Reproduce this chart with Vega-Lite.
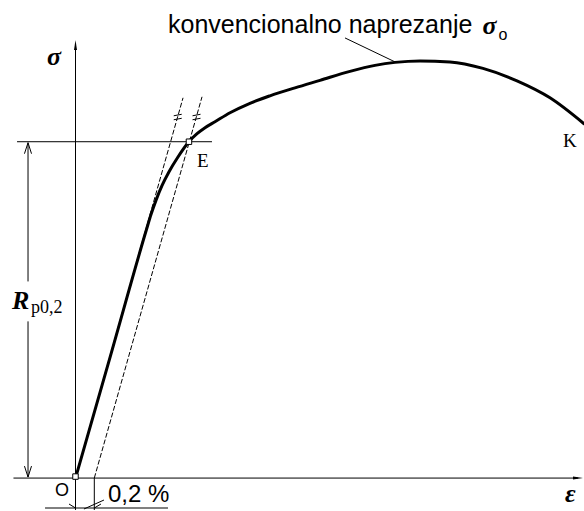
{
  "$schema": "https://vega.github.io/schema/vega-lite/v6.json",
  "width": 584,
  "height": 511,
  "padding": 0,
  "autosize": {"type": "fit", "contains": "padding"},
  "background": "white",
  "config": {"view": {"stroke": null}},
  "datasets": {
    "curve": [
      {"eps": 0, "sig": 0},
      {"eps": 0.378, "sig": 124.5},
      {"eps": 0.755, "sig": 249},
      {"eps": 0.803, "sig": 264},
      {"eps": 0.859, "sig": 279},
      {"eps": 0.92, "sig": 293},
      {"eps": 0.995, "sig": 307},
      {"eps": 1.085, "sig": 321},
      {"eps": 1.202, "sig": 336.5},
      {"eps": 1.293, "sig": 345},
      {"eps": 1.378, "sig": 351},
      {"eps": 1.484, "sig": 357},
      {"eps": 1.644, "sig": 366},
      {"eps": 1.856, "sig": 375.5},
      {"eps": 2.069, "sig": 383},
      {"eps": 2.335, "sig": 391},
      {"eps": 2.601, "sig": 398.5},
      {"eps": 2.92, "sig": 407.5},
      {"eps": 3.186, "sig": 413.5},
      {"eps": 3.399, "sig": 416.5},
      {"eps": 3.665, "sig": 418},
      {"eps": 3.984, "sig": 417},
      {"eps": 4.335, "sig": 410.5},
      {"eps": 4.697, "sig": 398},
      {"eps": 5.048, "sig": 381},
      {"eps": 5.41, "sig": 355}
    ],
    "parallels": [
      {"id": "elastic", "eps": 0, "sig": 0},
      {"id": "elastic", "eps": 1.144, "sig": 381},
      {"id": "offset", "eps": 0.2, "sig": 0},
      {"id": "offset", "eps": 1.346, "sig": 382}
    ],
    "segments": [
      {"eps": -0.66, "sig": 0, "eps2": 5.346, "sig2": 0},
      {"eps": 0, "sig": -32, "eps2": 0, "sig2": 434},
      {"eps": -0.622, "sig": 337, "eps2": 1.452, "sig2": 337},
      {"eps": -0.505, "sig": 336, "eps2": -0.505, "sig2": 197},
      {"eps": -0.505, "sig": 157, "eps2": -0.505, "sig2": 1},
      {"eps": -0.505, "sig": 336, "eps2": -0.543, "sig2": 325},
      {"eps": -0.505, "sig": 336, "eps2": -0.468, "sig2": 325},
      {"eps": -0.505, "sig": 1, "eps2": -0.543, "sig2": 12},
      {"eps": -0.505, "sig": 1, "eps2": -0.468, "sig2": 12},
      {"eps": 0.2, "sig": 0, "eps2": 0.2, "sig2": -32},
      {"eps": -0.324, "sig": -30, "eps2": 0.984, "sig2": -30},
      {"eps": -0.069, "sig": -26, "eps2": 0, "sig2": -30},
      {"eps": 0.271, "sig": -26, "eps2": 0.2, "sig2": -30},
      {"eps": 0.09, "sig": -31, "eps2": 0.303, "sig2": -22},
      {"eps": 2.867, "sig": 441, "eps2": 3.399, "sig2": 417},
      {"eps": 1.045, "sig": 363, "eps2": 1.13, "sig2": 364.5},
      {"eps": 1.045, "sig": 359, "eps2": 1.13, "sig2": 360.5},
      {"eps": 1.245, "sig": 363, "eps2": 1.33, "sig2": 364.5},
      {"eps": 1.245, "sig": 359, "eps2": 1.33, "sig2": 360.5}
    ],
    "arrowheads": [
      {"eps": 0, "sig": 434, "dir": "up"},
      {"eps": 5.346, "sig": 0, "dir": "right"}
    ],
    "nodes": [
      {"eps": 0, "sig": 1.5, "name": "O"},
      {"eps": 1.207, "sig": 337, "name": "E"}
    ],
    "symbols": [
      {"eps": -0.303, "sig": 414, "text": "σ"},
      {"eps": 5.207, "sig": -24, "text": "ε"},
      {"eps": 4.33, "sig": 445, "text": "σ"},
      {"eps": -0.676, "sig": 169, "text": "R"}
    ],
    "points": [
      {"eps": 1.293, "sig": 312, "text": "E"},
      {"eps": 5.186, "sig": 332, "text": "K"}
    ],
    "subscripts": [
      {"eps": -0.473, "sig": 165, "text": "p0,2"}
    ],
    "notes": [
      {"eps": 0.984, "sig": 446, "text": "konvencionalno naprezanje"}
    ],
    "noteSub": [
      {"eps": 4.5, "sig": 439, "text": "o"}
    ],
    "offsetLabel": [
      {"eps": 0.346, "sig": -24, "text": "0,2 %"}
    ],
    "origin": [
      {"eps": -0.218, "sig": -18, "text": "O"}
    ]
  },
  "encoding": {
    "x": {"field": "eps", "type": "quantitative", "scale": {"domain": [-0.8032, 5.4096], "nice": false, "zero": false}, "axis": null},
    "y": {"field": "sig", "type": "quantitative", "scale": {"domain": [-32, 479], "nice": false, "zero": false}, "axis": null}
  },
  "layer": [
    {
      "data": {"name": "segments"},
      "mark": {"type": "rule", "color": "black", "strokeWidth": 1},
      "encoding": {
        "x2": {"field": "eps2"},
        "y2": {"field": "sig2"}
      }
    },
    {
      "data": {"name": "parallels"},
      "mark": {"type": "line", "color": "black", "strokeWidth": 1, "strokeDash": [5, 2]},
      "encoding": {"detail": {"field": "id"}}
    },
    {
      "data": {"name": "curve"},
      "mark": {"type": "line", "color": "black", "strokeWidth": 3, "interpolate": "monotone", "strokeCap": "round", "clip": true}
    },
    {
      "data": {"name": "arrowheads"},
      "mark": {"type": "point", "filled": true, "color": "black", "size": 100, "opacity": 1},
      "encoding": {
        "shape": {"field": "dir", "type": "nominal", "legend": null,
          "scale": {"domain": ["up", "right"], "range": ["M0,-1L0.3,1L-0.3,1Z", "M1,0L-1,-0.3L-1,0.3Z"]}}
      }
    },
    {
      "data": {"name": "nodes"},
      "mark": {"type": "point", "shape": "square", "filled": true, "fill": "white", "stroke": "black", "strokeWidth": 1, "size": 30, "opacity": 1}
    },
    {
      "data": {"name": "symbols"},
      "mark": {"type": "text", "font": "Liberation Serif", "fontSize": 26, "fontWeight": "bold", "fontStyle": "italic", "align": "left", "baseline": "alphabetic", "color": "black"},
      "encoding": {"text": {"field": "text"}}
    },
    {
      "data": {"name": "points"},
      "mark": {"type": "text", "font": "Liberation Serif", "fontSize": 19, "align": "left", "baseline": "alphabetic", "color": "black"},
      "encoding": {"text": {"field": "text"}}
    },
    {
      "data": {"name": "subscripts"},
      "mark": {"type": "text", "font": "Liberation Serif", "fontSize": 18, "align": "left", "baseline": "alphabetic", "color": "black"},
      "encoding": {"text": {"field": "text"}}
    },
    {
      "data": {"name": "notes"},
      "mark": {"type": "text", "font": "Liberation Sans", "fontSize": 25, "align": "left", "baseline": "alphabetic", "color": "black"},
      "encoding": {"text": {"field": "text"}}
    },
    {
      "data": {"name": "noteSub"},
      "mark": {"type": "text", "font": "Liberation Sans", "fontSize": 16, "align": "left", "baseline": "alphabetic", "color": "black"},
      "encoding": {"text": {"field": "text"}}
    },
    {
      "data": {"name": "offsetLabel"},
      "mark": {"type": "text", "font": "Liberation Sans", "fontSize": 24, "align": "left", "baseline": "alphabetic", "color": "black"},
      "encoding": {"text": {"field": "text"}}
    },
    {
      "data": {"name": "origin"},
      "mark": {"type": "text", "font": "Liberation Sans", "fontSize": 18, "align": "left", "baseline": "alphabetic", "color": "black"},
      "encoding": {"text": {"field": "text"}}
    }
  ]
}
